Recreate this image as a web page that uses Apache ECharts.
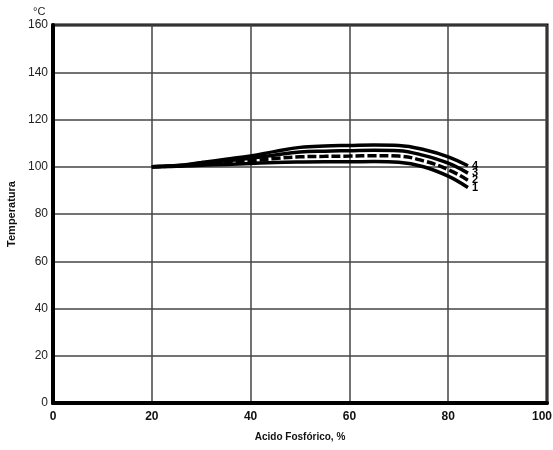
<!DOCTYPE html>
<html>
<head>
<meta charset="utf-8">
<script src="https://cdn.jsdelivr.net/npm/echarts@6/dist/echarts.min.js"></script>
<style>html,body{margin:0;padding:0;background:#fff}#c{width:553px;height:450px}</style>
</head>
<body>
<div id="c"></div>
<script>
var acid = [20, 25, 30, 35, 40, 45, 50, 55, 60, 65, 70, 75, 80, 84];
var curve1 = [100, 100.2, 100.6, 101, 101.4, 101.8, 102, 102.1, 102.1, 102.2, 101.9, 100, 96, 91.2];
var curve2 = [100, 100.3, 101, 101.8, 102.5, 103.5, 104.2, 104.4, 104.5, 104.7, 104.5, 102.5, 98.8, 94.3];
var curve3 = [100, 100.4, 101.4, 102.5, 103.6, 105, 106.2, 106.6, 106.8, 107, 106.8, 104.8, 101.5, 97.3];
var curve4 = [100, 100.5, 101.8, 103.2, 104.6, 106.5, 108.2, 108.8, 109.0, 109.2, 109.0, 107.3, 104.2, 100.4];
var curveNames = ['1', '2', '3', '4'];
var xTicks = [0, 20, 40, 60, 80, 100];
var yTicks = [0, 20, 40, 60, 80, 100, 120, 140, 160];

function pairs(v) { return acid.map(function (a, i) { return [a, v[i]]; }); }
var narrow = "'Liberation Sans Narrow', 'Arial Narrow', 'Liberation Sans', sans-serif";

function mk(name, vals, dashed) {
  return {
    name: name, type: 'line', data: pairs(vals), smooth: 0.4, symbol: 'none',
    lineStyle: { color: '#000', width: 3.5, type: dashed ? [9, 3] : 'solid' },
    endLabel: { show: true, formatter: name, color: '#000', fontWeight: 'bold', fontSize: 11,
      fontFamily: "'Liberation Sans', Arial, sans-serif", distance: 4 },
    z: 5
  };
}

var chart = echarts.init(document.getElementById('c'), null, { renderer: 'canvas' });
chart.setOption({
  animation: false,
  backgroundColor: '#fff',
  grid: { left: 53, right: 6, top: 25, bottom: 47, show: true, borderColor: '#000', borderWidth: 3,
    containLabel: false, outerBoundsMode: 'none' },
  xAxis: {
    type: 'value', min: 0, max: 100, interval: 20,
    name: 'Acido Fosfórico, %', nameLocation: 'middle', nameGap: 29,
    nameTextStyle: { fontWeight: 'bold', fontSize: 10, color: '#111', fontFamily: "'Liberation Sans', Arial, sans-serif" },
    axisLine: { show: true, lineStyle: { color: '#000', width: 4 } },
    axisTick: { show: false },
    axisLabel: { color: '#111', fontWeight: 'bold', fontSize: 12, margin: 8,
      fontFamily: "'Liberation Sans', Arial, sans-serif",
      formatter: function (v) {
        if (xTicks.indexOf(v) < 0) return '';
        return v === 100 ? '{r|' + v + '}' : String(v);
      },
      rich: { r: { fontWeight: 'bold', fontSize: 12, color: '#111', padding: [0, 10, 0, 0],
        fontFamily: "'Liberation Sans', Arial, sans-serif" } } },
    splitLine: { show: true, lineStyle: { color: '#444', width: 1.5 } }
  },
  yAxis: {
    type: 'value', min: 0, max: 160, interval: 20,
    name: 'Temperatura', nameLocation: 'middle', nameGap: 33, nameRotate: 90,
    nameTextStyle: { fontWeight: 'bold', fontSize: 11, color: '#111', fontFamily: narrow },
    axisLine: { show: true, lineStyle: { color: '#000', width: 4 } },
    axisTick: { show: false },
    axisLabel: { color: '#222', fontSize: 12, margin: 5, fontFamily: narrow,
      formatter: function (v) { return yTicks.indexOf(v) >= 0 ? String(v) : ''; } },
    splitLine: { show: true, lineStyle: { color: '#444', width: 1.5 } }
  },
  graphic: [{
    type: 'text', left: 33, top: 6,
    style: { text: '°C', fontSize: 11, fill: '#222', font: "11px " + narrow }
  }],
  series: [mk(curveNames[0], curve1, false), mk(curveNames[1], curve2, true), mk(curveNames[2], curve3, false), mk(curveNames[3], curve4, false)]
});
</script>
</body>
</html>
